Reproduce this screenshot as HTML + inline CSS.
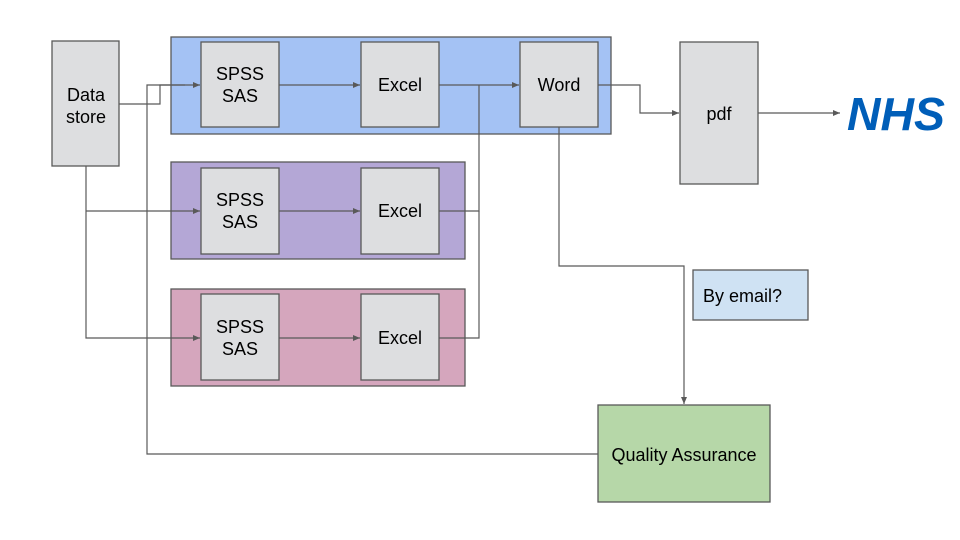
<!DOCTYPE html>
<html><head><meta charset="utf-8"><style>
html,body{margin:0;padding:0;background:#fff;width:960px;height:540px;overflow:hidden}
text{font-family:"Liberation Sans",Arial,sans-serif;font-size:18px;fill:#000}
</style></head><body>
<svg width="960" height="540" viewBox="0 0 960 540" xmlns="http://www.w3.org/2000/svg">
<defs><marker id="a" markerWidth="8" markerHeight="8" refX="7" refY="4" orient="auto" markerUnits="userSpaceOnUse"><path d="M0,1 L7,4 L0,7 Z" fill="#595959"/></marker></defs>
<g stroke="#595959" stroke-width="1.3">
<rect x="171" y="37" width="440" height="97" fill="#a4c2f4"/>
<rect x="171" y="162" width="294" height="97" fill="#b4a7d6"/>
<rect x="171" y="289" width="294" height="97" fill="#d5a6bd"/>
<rect x="52" y="41" width="67" height="125" fill="#dddee0"/>
<rect x="201" y="42" width="78" height="85" fill="#dddee0"/>
<rect x="361" y="42" width="78" height="85" fill="#dddee0"/>
<rect x="520" y="42" width="78" height="85" fill="#dddee0"/>
<rect x="201" y="168" width="78" height="86" fill="#dddee0"/>
<rect x="361" y="168" width="78" height="86" fill="#dddee0"/>
<rect x="201" y="294" width="78" height="86" fill="#dddee0"/>
<rect x="361" y="294" width="78" height="86" fill="#dddee0"/>
<rect x="680" y="42" width="78" height="142" fill="#dddee0"/>
<rect x="693" y="270" width="115" height="50" fill="#cfe2f3"/>
<rect x="598" y="405" width="172" height="97" fill="#b6d7a8"/>
</g>
<g stroke="#595959" stroke-width="1.2" fill="none">
<path d="M119,104 H160 V85 H200" marker-end="url(#a)"/>
<path d="M598,454 H147 V85 H185"/>
<path d="M86,166 V338 H200" marker-end="url(#a)"/>
<path d="M86,211 H200" marker-end="url(#a)"/>
<path d="M279,85 H360" marker-end="url(#a)"/>
<path d="M279,211 H360" marker-end="url(#a)"/>
<path d="M279,338 H360" marker-end="url(#a)"/>
<path d="M439,85 H519" marker-end="url(#a)"/>
<path d="M439,211 H479 V85"/>
<path d="M439,338 H479 V211"/>
<path d="M598,85 H640 V113 H679" marker-end="url(#a)"/>
<path d="M758,113 H840" marker-end="url(#a)"/>
<path d="M559,127 V266 H684 V404" marker-end="url(#a)"/>
</g>
<text x="86" y="101" text-anchor="middle">Data</text>
<text x="86" y="123" text-anchor="middle">store</text>
<text x="240" y="80" text-anchor="middle">SPSS</text>
<text x="240" y="102" text-anchor="middle">SAS</text>
<text x="400" y="91" text-anchor="middle">Excel</text>
<text x="559" y="91" text-anchor="middle">Word</text>
<text x="240" y="206" text-anchor="middle">SPSS</text>
<text x="240" y="228" text-anchor="middle">SAS</text>
<text x="400" y="217" text-anchor="middle">Excel</text>
<text x="240" y="333" text-anchor="middle">SPSS</text>
<text x="240" y="355" text-anchor="middle">SAS</text>
<text x="400" y="344" text-anchor="middle">Excel</text>
<text x="719" y="120" text-anchor="middle">pdf</text>
<text x="703" y="302">By email?</text>
<text x="684" y="461" text-anchor="middle">Quality Assurance</text>
<text x="847" y="130" style="font-size:46px;font-weight:bold;font-style:italic;fill:#005eb8" textLength="98" lengthAdjust="spacingAndGlyphs">NHS</text>
</svg>
</body></html>
